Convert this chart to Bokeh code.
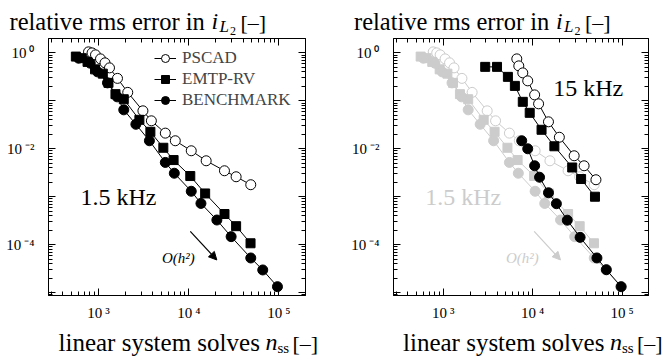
import json
from bokeh.plotting import figure
from bokeh.models import (Range1d, LogAxis, FixedTicker, CustomJSTickFormatter,
                          Arrow, NormalHead, Legend, LegendItem)
from bokeh.layouts import row, column
from bokeh.core.properties import value
from bokeh.embed import file_html
from bokeh.resources import INLINE

# ---------------- data ----------------
# 1.5 kHz case
n_pscad_1k5 = [775, 848, 926, 1052, 1180, 1323, 1622, 2108, 3105, 3853, 5500, 7094,
               10660, 15600, 24880, 33500, 48680]
e_pscad_1k5 = [1.05, 1.0, 0.91, 0.75, 0.62, 0.487, 0.294, 0.150, 0.0619, 0.0383, 0.0212,
               0.0147, 0.00909, 0.00562, 0.00348, 0.00261, 0.00178]
n_emtp_1k5 = [561, 653, 756, 915, 1116, 1289, 1541, 1905, 2838, 3757, 5228, 6792,
              10400, 15200, 24900, 33500, 48400]
e_emtp_1k5 = [0.837, 0.776, 0.649, 0.453, 0.369, 0.237, 0.138, 0.108, 0.0402, 0.0226,
              0.0105, 0.00582, 0.00270, 0.00117, 0.000436, 0.000243, 0.000107]
n_bench_1k5 = [601, 809, 975, 1257, 1611, 1905, 2594, 3664, 5500, 6918, 10660, 13650,
               20500, 29500, 48700, 66100, 96200]
e_bench_1k5 = [0.776, 0.610, 0.402, 0.237, 0.121, 0.0649, 0.0324, 0.0147, 0.00519,
               0.00309, 0.0013, 0.000725, 0.000327, 0.000147, 5.28e-5, 2.97e-5, 1.33e-5]
# 15 kHz case
n_pscad_15k = [6650, 7000, 7760, 8810, 10520, 11650, 15020, 19870, 29080, 37550, 50930]
e_pscad_15k = [0.75, 0.536, 0.383, 0.261, 0.133, 0.0866, 0.0365, 0.0174, 0.00715,
               0.00442, 0.00226]
n_emtp_15k = [2951, 4000, 5290, 6330, 7760, 9270, 12570, 17490, 27660, 34770, 49670]
e_emtp_15k = [0.511, 0.511, 0.316, 0.205, 0.0953, 0.0562, 0.0249, 0.01128, 0.00407,
              0.00234, 0.001]
n_bench_15k = [7550, 8810, 10520, 11940, 15020, 18410, 24380, 33880, 52240, 66530, 97500]
e_bench_15k = [0.0147, 0.01, 0.00442, 0.00255, 0.00121, 0.000715, 0.000324, 0.000142,
               5.28e-5, 3.01e-5, 1.33e-5]

series_names = ["PSCAD", "EMTP-RV", "BENCHMARK"]
x_major_ticks = [1e2, 1e3, 1e4, 1e5, 1e6]
y_major_ticks = [1e-6, 1e-5, 1e-4, 1e-3, 1e-2, 1e-1, 1e0]

# order-of-convergence arrow (data coordinates) and annotation texts
arrow_start = (10400, 1.89e-4)
arrow_end = (20470, 4.8e-5)
order_label_pos = (7660, 5.3e-5)
label_1k5_pos = (631, 9.7e-4)
label_15k_pos = (16940, 0.187)

# header (y quantity) and x-axis label pieces: text, x, baseline y, size(px), style
title_parts = [("relative rms error in", 9, 29, 24.5, "normal"),
               ("i", 211, 29, 24, "italic"),
               ("L", 219, 32, 17, "italic"),
               ("2", 229.5, 35, 12, "normal"),
               ("[\u2013]", 240, 29, 22, "normal")]
xlabel_parts = [("linear system solves", 58, 350, 25, "normal"),
                ("n", 265, 350, 24, "italic"),
                ("ss", 277, 353, 15, "normal"),
                ("[\u2013]", 292, 350, 22, "normal")]
PANEL_SHIFT = 344.5

FONT = "Liberation Serif"
GRAY = "#cccccc"
X_RANGE = (279, 196800)
Y_RANGE = (10 ** -5.06, 10 ** 0.30)
TOP_H, BOTTOM_H, TOTAL_H = 38, 26, 356
MAIN_H = TOTAL_H - TOP_H - BOTTOM_H

SUP = {"-": "\u207b", "0": "\u2070", "1": "\u00b9", "2": "\u00b2", "3": "\u00b3",
       "4": "\u2074", "5": "\u2075", "6": "\u2076"}
FMT = """
const e = Math.round(Math.log10(tick));
if (step > 1 && e % step != 0) { return ""; }
const sup = SUPMAP;
let s = "";
for (const c of String(e)) { s += sup[c]; }
return "10" + "\\u2009" + s;
""".replace("SUPMAP", json.dumps(SUP))


def make_fig(border_left, border_right):
    p = figure(width=331, height=MAIN_H, x_axis_type="log", y_axis_type="log",
               x_range=Range1d(*X_RANGE), y_range=Range1d(*Y_RANGE),
               output_backend="svg", toolbar_location=None, title_location=None,
               min_border_left=border_left, min_border_right=border_right,
               min_border_top=0, min_border_bottom=MAIN_H - 257)
    p.grid.visible = False
    p.outline_line_color = "black"
    p.outline_line_width = 1
    p.background_fill_color = "white"
    p.border_fill_color = "white"

    xt = FixedTicker(ticks=x_major_ticks,
                     minor_ticks=[k * 10.0 ** e for e in range(2, 6) for k in range(2, 10)])
    yt = FixedTicker(ticks=y_major_ticks,
                     minor_ticks=[k * 10.0 ** e for e in range(-6, 1) for k in range(2, 10)])
    bottom_ax = p.below[0]
    left_ax = p.left[0]
    bottom_ax.ticker = xt
    left_ax.ticker = yt
    bottom_ax.formatter = CustomJSTickFormatter(code=FMT, args=dict(step=1))
    left_ax.formatter = CustomJSTickFormatter(code=FMT, args=dict(step=2))
    blank = CustomJSTickFormatter(code="return '';")
    p.add_layout(LogAxis(ticker=yt, formatter=blank, major_label_standoff=0,
                         major_label_text_font_size="1px"), "right")
    p.add_layout(LogAxis(ticker=xt, formatter=blank, major_label_standoff=0,
                         major_label_text_font_size="1px"), "above")
    for ax in p.axis:
        ax.major_tick_in = 7
        ax.major_tick_out = 0
        ax.minor_tick_in = 4
        ax.minor_tick_out = 0
        ax.axis_line_color = "black"
        ax.major_tick_line_color = "black"
        ax.minor_tick_line_color = "black"
        ax.major_label_text_font = FONT
        ax.major_label_text_color = "black"
    bottom_ax.major_label_text_font_size = "15px"
    left_ax.major_label_text_font_size = "15px"
    bottom_ax.major_label_standoff = 9
    left_ax.major_label_standoff = 14
    return p


def text_strip(height, y_top, parts):
    s = figure(width=662, height=height, x_range=Range1d(0, 662),
               y_range=Range1d(y_top + height, y_top), output_backend="svg",
               toolbar_location=None, title_location=None,
               x_axis_location=None, y_axis_location=None,
               min_border=0, min_border_left=0, min_border_right=0,
               min_border_top=0, min_border_bottom=0)
    s.grid.visible = False
    s.outline_line_color = None
    s.background_fill_color = "white"
    s.border_fill_color = "white"
    for shift in (0, PANEL_SHIFT):
        for (t, x, y, size, style) in parts:
            # vertical centre of the text box sits ~0.34 em above the baseline
            s.text(x=[x + shift], y=[y - 0.34 * size], text=[t], text_font=value(FONT),
                   text_font_size=value(f"{size}px"), text_font_style=value(style),
                   text_align=value("left"), text_baseline=value("middle"),
                   text_color="black")
    return s


def draw(p, n, e, marker, fill, color, size):
    l = p.line(n, e, line_color=color, line_width=1)
    s = p.scatter(n, e, marker=marker, size=size, fill_color=fill, line_color=color,
                  line_width=1)
    return [l, s]


def annotate_order(p, color):
    p.add_layout(Arrow(end=NormalHead(size=8, fill_color=color, line_color=color, line_width=1),
                       x_start=arrow_start[0], y_start=arrow_start[1],
                       x_end=arrow_end[0], y_end=arrow_end[1],
                       line_color=color, line_width=1.2))
    p.text(x=[order_label_pos[0]], y=[order_label_pos[1]], text=["O(h\u00b2)"],
           text_font=value(FONT), text_font_size=value("15px"),
           text_font_style=value("italic"), text_align=value("center"),
           text_baseline=value("middle"), text_color=color)
    p.text(x=[label_1k5_pos[0]], y=[label_1k5_pos[1]], text=["1.5 kHz"],
           text_font=value(FONT), text_font_size=value("24px"),
           text_align=value("left"), text_baseline=value("middle"), text_color=color)


# ---------------- left panel: 1.5 kHz ----------------
p1 = make_fig(48, 26)
r_p = draw(p1, n_pscad_1k5, e_pscad_1k5, "circle", "white", "black", 10)
r_e = draw(p1, n_emtp_1k5, e_emtp_1k5, "square", "black", "black", 9)
r_b = draw(p1, n_bench_1k5, e_bench_1k5, "circle", "black", "black", 10)
annotate_order(p1, "black")
legend = Legend(items=[LegendItem(label=series_names[0], renderers=r_p),
                       LegendItem(label=series_names[1], renderers=r_e),
                       LegendItem(label=series_names[2], renderers=r_b)],
                location=(106, 185), label_text_font=FONT, label_text_font_size="17px",
                glyph_width=22, glyph_height=20, label_height=20, spacing=1,
                padding=0, margin=0, label_standoff=6,
                border_line_alpha=0, background_fill_alpha=0)
p1.add_layout(legend)

# ---------------- right panel: 15 kHz over greyed 1.5 kHz ----------------
p2 = make_fig(62, 14)
draw(p2, n_pscad_1k5, e_pscad_1k5, "circle", "white", GRAY, 10)
draw(p2, n_emtp_1k5, e_emtp_1k5, "square", GRAY, GRAY, 9)
draw(p2, n_bench_1k5, e_bench_1k5, "circle", GRAY, GRAY, 10)
annotate_order(p2, GRAY)
draw(p2, n_pscad_15k, e_pscad_15k, "circle", "white", "black", 10)
draw(p2, n_emtp_15k, e_emtp_15k, "square", "black", "black", 9)
draw(p2, n_bench_15k, e_bench_15k, "circle", "black", "black", 10)
p2.text(x=[label_15k_pos[0]], y=[label_15k_pos[1]], text=["15 kHz"],
        text_font=value(FONT), text_font_size=value("24px"),
        text_align=value("left"), text_baseline=value("middle"), text_color="black")

top = text_strip(TOP_H, 0, title_parts)
bottom = text_strip(BOTTOM_H, TOTAL_H - BOTTOM_H, xlabel_parts)

layout = column(top, row(p1, p2), bottom)
open("out.html", "w").write(file_html(layout, INLINE))
